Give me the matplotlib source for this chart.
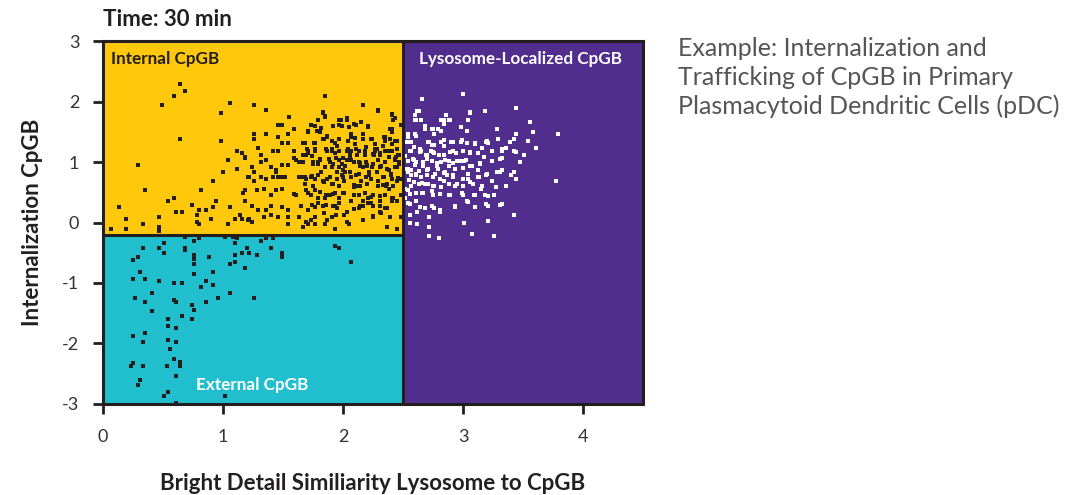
import matplotlib.pyplot as plt
from matplotlib.patches import Rectangle

# gate boundaries
gate_x = 2.5
gate_y = -0.2
x_range = (0, 4.5)
y_range = (-3, 3)

# cells in the Internal CpGB gate, (similarity, internalization)
internal_pts = [
    (0.64, 2.29), (0.68, 2.17), (0.59, 2.09), (0.49, 1.94), (1.06, 1.97), (0.98, 1.81),
    (0.64, 1.38), (0.98, 1.34), (1.12, 1.18), (1.16, 1.15), (1.18, 1.07), (1.04, 1.03),
    (1.12, 0.88), (1.00, 0.84), (1.22, 0.76), (0.29, 0.95), (0.92, 0.68), (0.35, 0.53),
    (0.82, 0.53), (0.59, 0.40), (0.54, 0.36), (0.94, 0.36), (1.17, 0.48), (1.18, 0.36),
    (0.74, 0.29), (0.13, 0.25), (0.80, 0.21), (0.86, 0.21), (0.92, 0.25), (1.06, 0.25),
    (0.61, 0.17), (0.66, 0.17), (0.47, 0.09), (0.78, 0.13), (1.14, 0.13), (0.19, 0.05),
    (0.90, 0.05), (1.10, 0.05), (1.16, 0.05), (1.22, 0.05), (0.33, -0.03), (0.78, 0.01),
    (0.80, -0.03), (1.04, -0.03), (0.47, -0.07), (0.47, -0.14), (0.07, -0.10), (0.19, -0.10),
    (1.85, 2.09), (1.26, 1.94), (1.36, 1.86), (2.17, 1.94), (2.29, 1.86), (2.41, 1.78),
    (2.42, 1.70), (1.55, 1.75), (1.83, 1.81), (1.85, 1.74), (1.79, 1.70), (1.46, 1.62),
    (1.49, 1.62), (1.59, 1.54), (1.73, 1.62), (1.77, 1.59), (1.97, 1.70), (1.97, 1.62),
    (2.03, 1.70), (2.11, 1.62), (2.15, 1.66), (2.21, 1.59), (2.41, 1.54), (2.41, 1.50),
    (2.48, 1.62), (1.26, 1.46), (1.26, 1.38), (1.36, 1.46), (1.54, 1.46), (1.46, 1.42),
    (1.71, 1.50), (1.81, 1.50), (1.87, 1.42), (1.83, 1.38), (1.91, 1.34), (1.97, 1.38),
    (2.07, 1.46), (2.07, 1.42), (2.17, 1.46), (2.04, 1.34), (2.10, 1.30), (2.24, 1.38),
    (2.27, 1.30), (2.35, 1.42), (2.35, 1.34), (2.41, 1.30), (2.45, 1.34), (1.49, 1.31),
    (1.54, 1.31), (1.67, 1.31), (1.77, 1.31), (1.29, 1.23), (1.42, 1.19), (1.46, 1.19),
    (1.59, 1.19), (1.71, 1.19), (1.71, 1.15), (1.77, 1.19), (1.87, 1.19), (1.91, 1.19),
    (1.93, 1.15), (2.03, 1.19), (2.07, 1.19), (2.13, 1.19), (2.18, 1.19), (2.27, 1.19),
    (2.31, 1.15), (2.35, 1.19), (2.41, 1.19), (2.46, 1.11), (1.18, 1.08), (1.24, 0.91),
    (1.26, 0.83), (1.32, 1.11), (1.32, 1.00), (1.36, 1.04), (1.40, 0.91), (1.44, 0.87),
    (1.44, 0.83), (1.49, 0.95), (1.54, 0.95), (1.59, 1.07), (1.61, 1.04), (1.63, 1.00),
    (1.67, 1.00), (1.69, 1.11), (1.75, 1.00), (1.79, 1.00), (1.81, 1.04), (1.85, 0.91),
    (1.89, 1.00), (1.91, 0.91), (1.97, 1.04), (1.99, 0.96), (2.03, 1.04), (2.07, 1.04),
    (2.13, 1.00), (2.17, 0.91), (2.19, 1.00), (2.25, 0.96), (2.29, 1.04), (2.31, 0.91),
    (2.35, 1.00), (2.38, 0.87), (2.43, 1.04), (2.45, 0.91), (2.47, 1.00), (1.21, 0.75),
    (1.26, 0.68), (1.32, 0.75), (1.36, 0.72), (1.42, 0.75), (1.46, 0.75), (1.49, 0.75),
    (1.52, 0.75), (1.63, 0.76), (1.67, 0.76), (1.69, 0.72), (1.73, 0.75), (1.77, 0.72),
    (1.79, 0.79), (1.83, 0.68), (1.87, 0.72), (1.91, 0.64), (1.95, 0.72), (1.99, 0.79),
    (2.01, 0.68), (2.07, 0.75), (2.11, 0.79), (2.15, 0.68), (2.19, 0.75), (2.23, 0.72),
    (2.29, 0.68), (2.33, 0.75), (2.37, 0.64), (2.41, 0.72), (2.45, 0.68), (2.48, 0.72),
    (1.18, 0.53), (1.28, 0.53), (1.34, 0.56), (1.40, 0.45), (1.44, 0.53), (1.49, 0.56),
    (1.59, 0.47), (1.61, 0.45), (1.69, 0.53), (1.73, 0.45), (1.77, 0.53), (1.79, 0.40),
    (1.85, 0.40), (1.89, 0.45), (1.93, 0.48), (1.97, 0.40), (2.01, 0.48), (2.07, 0.36),
    (2.13, 0.45), (2.17, 0.36), (2.21, 0.40), (2.25, 0.45), (2.31, 0.36), (2.35, 0.45),
    (2.41, 0.40), (2.45, 0.36), (2.48, 0.45), (1.24, 0.28), (1.29, 0.21), (1.36, 0.21),
    (1.40, 0.28), (1.49, 0.25), (1.54, 0.21), (1.65, 0.28), (1.71, 0.21), (1.77, 0.25),
    (1.83, 0.28), (1.93, 0.28), (1.95, 0.24), (2.13, 0.24), (2.17, 0.28), (2.21, 0.32),
    (2.25, 0.28), (2.35, 0.24), (2.41, 0.36), (1.21, 0.04), (1.24, 0.01), (1.34, 0.09),
    (1.40, 0.13), (1.46, 0.09), (1.54, 0.09), (1.54, -0.02), (1.63, 0.09), (1.69, 0.01),
    (1.73, 0.04), (1.77, 0.09), (1.87, 0.04), (1.91, 0.09), (2.01, 0.13), (2.03, 0.01),
    (2.25, 0.09), (2.31, 0.17), (2.37, -0.07), (2.45, -0.10), (1.67, -0.08), (1.71, -0.03),
    (1.77, -0.03), (1.85, -0.03), (1.93, -0.10), (2.05, -0.03), (2.17, 0.04), (2.48, 0.09),
    (2.00, 0.87), (2.06, 1.10), (2.12, 0.60), (2.22, 0.84), (2.28, 1.22), (2.38, 0.55),
    (2.44, 1.08), (1.95, 1.26), (2.09, 0.58), (2.20, 0.94), (2.33, 0.62), (2.02, 0.84),
    (2.14, 0.98), (2.26, 1.12), (2.40, 0.80),
    # dense core, right half of the gate
    (1.83, 1.82), (1.85, 1.76), (1.98, 1.69), (2.03, 1.72), (2.09, 1.63), (2.15, 1.67),
    (2.29, 1.85), (2.41, 1.80), (2.43, 1.72), (1.73, 1.61), (1.78, 1.52), (1.82, 1.56),
    (1.71, 1.52), (1.92, 1.60), (1.99, 1.59), (2.05, 1.58), (2.21, 1.58), (2.39, 1.54),
    (1.87, 1.43), (1.84, 1.38), (1.93, 1.32), (2.07, 1.44), (2.10, 1.39), (2.17, 1.38),
    (2.23, 1.38), (2.34, 1.41), (2.39, 1.38), (2.43, 1.34), (1.68, 1.32), (1.76, 1.32),
    (1.70, 1.22), (1.77, 1.21), (1.86, 1.21), (1.91, 1.22), (1.97, 1.19), (2.04, 1.21),
    (2.11, 1.22), (2.19, 1.25), (2.27, 1.22), (2.33, 1.26), (2.38, 1.19), (2.45, 1.22),
    (1.67, 1.11), (1.74, 1.10), (1.81, 1.05), (1.88, 1.05), (1.94, 1.06), (2.00, 1.06),
    (2.06, 1.11), (2.12, 1.11), (2.18, 1.11), (2.25, 1.14), (2.31, 1.12), (2.38, 1.08),
    (2.43, 1.05), (2.47, 1.11), (1.75, 0.97), (1.79, 0.97), (1.85, 0.91), (1.92, 0.97),
    (1.97, 0.91), (2.02, 0.94), (2.09, 1.00), (2.14, 0.94), (2.20, 0.95), (2.24, 0.91),
    (2.32, 0.94), (2.37, 0.89), (2.43, 0.91), (2.47, 0.97), (1.68, 0.75), (1.74, 0.77),
    (1.82, 0.84), (1.89, 0.75), (1.95, 0.83), (2.00, 0.75), (2.06, 0.83), (2.13, 0.80),
    (2.22, 0.78), (2.28, 0.83), (2.34, 0.75), (2.40, 0.78), (2.46, 0.73), (1.68, 0.64),
    (1.75, 0.61), (1.84, 0.67), (1.92, 0.64), (1.97, 0.61), (2.09, 0.62), (2.14, 0.61),
    (2.20, 0.64), (2.29, 0.61), (2.36, 0.60), (2.42, 0.61), (1.71, 0.49), (1.81, 0.51),
    (1.86, 0.45), (1.92, 0.47), (2.00, 0.49), (2.09, 0.45), (2.18, 0.49), (2.23, 0.42),
    (2.31, 0.44), (2.42, 0.40), (1.74, 0.29), (1.79, 0.33), (1.86, 0.29), (1.92, 0.28),
    (1.97, 0.33), (2.09, 0.22), (2.14, 0.28), (2.23, 0.33), (2.31, 0.28), (2.37, 0.24),
    (1.84, 0.16), (1.94, 0.12), (2.03, 0.18), (2.25, 0.10), (2.32, 0.16), (2.39, 0.09),
]

# cells in the External CpGB gate
external_pts = [
    (0.33, -0.42), (0.47, -0.42), (0.51, -0.34), (0.51, -0.50), (0.68, -0.42), (0.68, -0.45),
    (0.76, -0.30), (0.76, -0.53), (0.76, -0.61), (0.76, -0.69), (0.76, -0.85), (0.88, -0.57),
    (0.80, -0.26), (0.25, -0.62), (0.29, -0.57), (0.31, -0.82), (0.25, -0.93), (0.35, -0.93),
    (0.47, -0.97), (0.59, -1.00), (0.66, -1.00), (0.41, -1.16), (0.27, -1.25), (0.35, -1.31),
    (0.59, -1.28), (0.61, -1.31), (0.41, -1.46), (0.74, -1.36), (0.76, -1.44), (0.66, -1.55),
    (0.74, -1.60), (0.54, -1.60), (0.54, -1.71), (0.61, -1.75), (0.35, -1.83), (0.25, -1.87),
    (0.33, -1.98), (0.54, -1.94), (0.61, -1.98), (0.56, -2.10), (0.59, -2.26), (0.64, -2.30),
    (0.64, -2.38), (0.53, -2.38), (0.33, -2.38), (0.23, -2.38), (0.25, -2.33), (0.61, -2.54),
    (0.31, -2.61), (0.29, -2.69), (0.54, -2.80), (0.51, -2.87), (0.61, -2.98), (1.02, -2.87),
    (0.86, -0.97), (0.92, -0.82), (0.82, -1.06), (0.92, -1.04), (0.86, -1.31), (0.96, -1.25),
    (1.06, -1.16), (1.26, -1.25), (1.06, -0.69), (1.10, -0.66), (1.10, -0.53), (1.10, -0.34),
    (1.16, -0.50), (1.20, -0.42), (1.22, -0.50), (1.28, -0.53), (1.18, -0.76), (1.32, -0.30),
    (1.36, -0.26), (1.42, -0.26), (1.40, -0.42), (1.49, -0.50), (1.49, -0.57), (1.93, -0.39),
    (1.97, -0.42), (2.07, -0.66), (0.68, -0.24), (1.02, -0.24), (1.08, -0.24), (1.12, -0.26),
]

# cells in the Lysosome-Localized CpGB gate
lysosome_pts = [
    (2.66, 2.04), (3.00, 2.13), (2.62, 1.85), (2.60, 1.78), (2.60, 1.70), (2.65, 1.70),
    (2.86, 1.78), (2.82, 1.70), (2.88, 1.70), (3.06, 1.81), (3.18, 1.85), (3.44, 1.90),
    (3.04, 1.70), (3.56, 1.66), (2.68, 1.59), (2.68, 1.55), (2.74, 1.55), (2.79, 1.55),
    (2.82, 1.51), (2.84, 1.63), (2.98, 1.58), (3.03, 1.51), (3.28, 1.54), (3.44, 1.47),
    (3.58, 1.50), (3.79, 1.47), (2.54, 1.47), (2.60, 1.47), (2.76, 1.47), (2.53, 1.33),
    (2.57, 1.33), (2.72, 1.33), (2.82, 1.33), (2.84, 1.27), (2.90, 1.33), (2.98, 1.33),
    (3.03, 1.31), (3.10, 1.31), (3.19, 1.33), (3.21, 1.31), (3.29, 1.38), (3.39, 1.33),
    (3.42, 1.38), (3.54, 1.34), (3.61, 1.23), (2.57, 1.19), (2.65, 1.19), (2.69, 1.12),
    (2.73, 1.19), (2.76, 1.15), (2.80, 1.12), (2.89, 1.16), (2.94, 1.15), (3.00, 1.19),
    (3.06, 1.15), (3.12, 1.15), (3.17, 1.08), (3.32, 1.19), (3.36, 1.23), (3.42, 1.19),
    (3.44, 1.16), (3.51, 1.11), (2.54, 1.02), (2.61, 1.00), (2.67, 1.00), (2.74, 1.02),
    (2.82, 1.00), (2.88, 1.02), (2.92, 0.98), (2.97, 1.02), (3.01, 1.02), (3.14, 0.98),
    (3.24, 1.02), (3.32, 1.07), (3.47, 1.00), (2.54, 0.89), (2.57, 0.87), (2.67, 0.93),
    (2.71, 0.89), (2.78, 0.94), (2.79, 0.89), (2.88, 0.94), (2.93, 0.89), (3.00, 0.90),
    (3.06, 0.94), (3.12, 0.87), (3.28, 0.83), (3.32, 0.87), (3.42, 0.83), (2.57, 0.79),
    (2.61, 0.79), (2.65, 0.75), (2.70, 0.79), (2.75, 0.75), (2.81, 0.72), (2.87, 0.79),
    (2.92, 0.75), (3.00, 0.72), (3.04, 0.72), (3.12, 0.75), (3.19, 0.79), (3.24, 0.68),
    (3.36, 0.60), (3.40, 0.79), (3.44, 0.72), (3.77, 0.68), (2.57, 0.60), (2.63, 0.64),
    (2.71, 0.64), (2.76, 0.60), (2.82, 0.58), (2.88, 0.64), (2.93, 0.60), (3.00, 0.60),
    (3.08, 0.64), (3.15, 0.56), (2.54, 0.53), (2.61, 0.48), (2.67, 0.48), (2.74, 0.52),
    (2.81, 0.47), (2.89, 0.45), (3.00, 0.45), (3.10, 0.45), (3.18, 0.45), (3.26, 0.45),
    (2.54, 0.32), (2.61, 0.36), (2.68, 0.24), (2.76, 0.24), (2.81, 0.20), (2.93, 0.26),
    (3.03, 0.36), (3.10, 0.25), (3.19, 0.30), (3.32, 0.31), (2.56, 0.13), (2.62, 0.17),
    (2.72, 0.09), (2.56, 0.00), (2.62, -0.03), (2.72, -0.07), (3.01, 0.00), (3.21, 0.03),
    (3.42, 0.13), (2.72, -0.22), (2.80, -0.25), (3.07, -0.19), (3.26, -0.22), (2.52, 1.10),
    (2.58, 1.05), (2.55, 0.70), (2.63, 0.85), (2.70, 1.05), (2.78, 0.98), (2.52, 0.55),
    (2.64, 1.22), (2.59, 1.25), (2.76, 1.28), (2.52, 0.40), (2.66, 0.66), (2.84, 0.82),
    (2.52, 0.88), (2.60, 0.95),
    # dense core next to the gate line
    (2.63, 1.85), (2.61, 1.70), (2.68, 1.60), (2.75, 1.55), (2.84, 1.70), (2.89, 1.70),
    (3.04, 1.70), (3.06, 1.82), (3.18, 1.85), (2.54, 1.41), (2.61, 1.43), (2.71, 1.33),
    (2.74, 1.28), (2.84, 1.36), (2.92, 1.33), (2.99, 1.36), (3.10, 1.30), (3.20, 1.34),
    (3.29, 1.38), (2.56, 1.19), (2.64, 1.16), (2.70, 1.12), (2.75, 1.16), (2.84, 1.11),
    (2.92, 1.19), (3.06, 1.16), (3.16, 1.23), (3.24, 1.19), (3.32, 1.22), (2.59, 1.03),
    (2.67, 0.97), (2.78, 0.95), (2.85, 1.03), (2.95, 1.01), (3.02, 1.03), (3.07, 0.94),
    (3.14, 0.97), (3.31, 1.05), (2.54, 0.83), (2.61, 0.80), (2.70, 0.86), (2.77, 0.80),
    (2.85, 0.83), (2.92, 0.79), (3.04, 0.80), (3.13, 0.75), (3.20, 0.80), (3.31, 0.83),
    (2.59, 0.67), (2.68, 0.64), (2.75, 0.61), (2.84, 0.68), (2.95, 0.64), (3.06, 0.67),
    (3.16, 0.60), (3.27, 0.58), (2.56, 0.47), (2.66, 0.49), (2.75, 0.45), (2.88, 0.46),
    (2.99, 0.49), (3.09, 0.45), (3.21, 0.44), (2.56, 0.31), (2.64, 0.25), (2.74, 0.28),
    (2.81, 0.18), (2.93, 0.28), (3.04, 0.34), (3.21, 0.28), (3.31, 0.29),
]

yellow = '#FFC80B'
cyan = '#21BECD'
purple = '#512D8E'
frame = '#231F20'

plt.rcParams['font.family'] = ['Lato', 'DejaVu Sans']

fig = plt.figure(figsize=(10.72, 4.95), dpi=100)
ax = fig.add_axes([0.096, 0.184, 0.504, 0.733])
ax.set_xlim(*x_range)
ax.set_ylim(*y_range)

# gate regions
ax.add_patch(Rectangle((x_range[0], gate_y), gate_x - x_range[0], y_range[1] - gate_y,
                       facecolor=yellow, edgecolor='none', zorder=0))
ax.add_patch(Rectangle((x_range[0], y_range[0]), gate_x - x_range[0], gate_y - y_range[0],
                       facecolor=cyan, edgecolor='none', zorder=0))
ax.add_patch(Rectangle((gate_x, y_range[0]), x_range[1] - gate_x, y_range[1] - y_range[0],
                       facecolor=purple, edgecolor='none', zorder=0))
ax.plot([gate_x, gate_x], y_range, color=frame, lw=2.2, zorder=3)
ax.plot([x_range[0], gate_x], [gate_y, gate_y], color=frame, lw=2.2, zorder=3)

for pts, c in [(internal_pts, frame), (external_pts, frame), (lysosome_pts, 'white')]:
    xs, ys = zip(*pts)
    ax.scatter(xs, ys, s=5, marker='s', color=c, linewidths=0, zorder=2)

# gate names
ax.text(0.07, 2.84, 'Internal CpGB', fontsize=12.3, fontweight='bold', color=frame,
        va='top', ha='left')
ax.text(2.63, 2.84, 'Lysosome-Localized CpGB', fontsize=12.3, fontweight='bold',
        color='white', va='top', ha='left')
ax.text(1.24, -2.68, 'External CpGB', fontsize=12.3, fontweight='bold', color='white',
        va='center', ha='center')

for side in ax.spines.values():
    side.set_linewidth(2.2)
    side.set_color(frame)
    side.set_zorder(4)

ax.set_xticks([0, 1, 2, 3, 4])
ax.set_yticks([-3, -2, -1, 0, 1, 2, 3])
ax.set_yticklabels(['-3', '-2', '-1', '0', '1', '2', '3'])
ax.tick_params(axis='both', direction='out', length=7, width=2, color=frame,
               labelsize=13, labelcolor='#333333')
ax.tick_params(axis='x', pad=11)
ax.tick_params(axis='y', pad=10)

ax.set_xlabel('Bright Detail Similiarity Lysosome to CpGB', fontsize=16,
              fontweight='bold', color=frame, labelpad=20)
ax.set_ylabel('Internalization CpGB', fontsize=16, fontweight='bold', color=frame,
              labelpad=14)
ax.set_title('Time: 30 min', fontsize=16, fontweight='bold', color=frame,
             loc='left', pad=11)

fig.text(0.632, 0.925, 'Example: Internalization and\nTrafficking of CpGB in Primary\n'
         'Plasmacytoid Dendritic Cells (pDC)', fontsize=18, fontweight='normal',
         color='#555555', va='top', ha='left', linespacing=1.3)

fig.savefig('out.png', dpi=100)
